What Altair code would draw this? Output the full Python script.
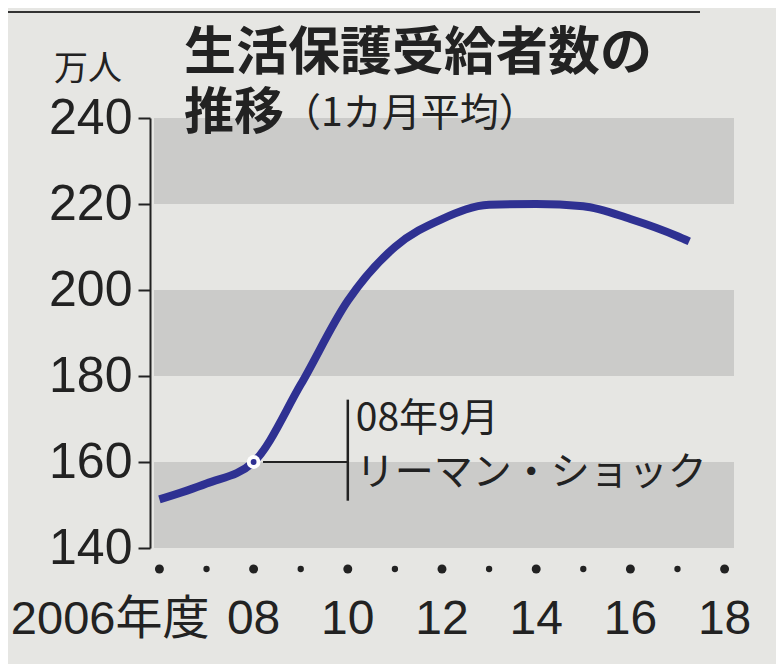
import altair as alt
import pandas as pd

# ---- data ----
years = [2006, 2007, 2008, 2009, 2010, 2011, 2012, 2013, 2014, 2015, 2016, 2017, 2017.25]
recipients = [151.3, 155.0, 160.0, 178.0, 197.5, 210.0, 216.5, 219.8, 220.0, 219.5, 216.5, 212.5, 211.3]

band_lo = [140, 180, 220]
band_hi = [160, 200, 240]

y_ticks = [140, 160, 180, 200, 220, 240]

dot_years = list(range(2006, 2019))
label_years = [2008, 2010, 2012, 2014, 2016, 2018]
label_texts = ["08", "10", "12", "14", "16", "18"]
first_label_year = [2006]
first_label_text = ["2006年度"]

event_year = [2008]
event_value = [160]
event_lines = ["08年9月", "リーマン・ショック"]
event_text_y = [170.0, 157.5]

# ---- styling ----
W, H = 584, 430
BLUE = "#2f3192"
INK = "#222222"
BAND = "#cbcbc9"
PAPER = "#e6e6e3"
NUM_FONT = "Liberation Sans, Noto Sans CJK JP"
JP_FONT = "Noto Sans CJK JP"

x_scale = alt.Scale(domain=[2005.8, 2018.2], nice=False, zero=False)
y_scale = alt.Scale(domain=[140, 240], nice=False, zero=False)
y_axis = alt.Axis(values=y_ticks, title=None, grid=False, domainColor=INK, domainWidth=2,
                  tickColor=INK, tickWidth=2, tickSize=12, labelPadding=6,
                  labelFont=NUM_FONT, labelFontSize=50, labelColor=INK)


def X(field):
    return alt.X(field, type="quantitative", scale=x_scale, axis=None)


def Y(field):
    return alt.Y(field, type="quantitative", scale=y_scale, axis=y_axis)


bands = alt.Chart(pd.DataFrame({"lo": band_lo, "hi": band_hi})).mark_rect(color=BAND).encode(
    x=alt.value(4), x2=alt.value(W), y=Y("lo"), y2="hi:Q")

line_df = pd.DataFrame({"year": years, "value": recipients})
line = alt.Chart(line_df).mark_line(color=BLUE, strokeWidth=8, interpolate="monotone",
                                    strokeCap="butt").encode(x=X("year"), y=Y("value"))

ev_df = pd.DataFrame({"year": event_year, "value": event_value})
ring = alt.Chart(ev_df).mark_circle(color="white", opacity=1, size=190).encode(x=X("year"), y=Y("value"))
core = alt.Chart(ev_df).mark_circle(color=BLUE, opacity=1, size=34).encode(x=X("year"), y=Y("value"))

h_rule = alt.Chart(pd.DataFrame({"x1": [2008.2], "x2": [2010], "y": [160]})).mark_rule(
    color=INK, strokeWidth=2).encode(x=X("x1"), x2="x2:Q", y=Y("y"))
v_rule = alt.Chart(pd.DataFrame({"x": [2010], "y1": [151], "y2": [174.5]})).mark_rule(
    color=INK, strokeWidth=2.5).encode(x=X("x"), y=Y("y1"), y2="y2:Q")

ev_text = alt.Chart(pd.DataFrame({"x": [2010, 2010], "y": event_text_y, "t": event_lines})).mark_text(
    align="left", baseline="middle", dx=8, font=JP_FONT, fontSize=39, color=INK).encode(
    x=X("x"), y=Y("y"), text="t:N")

dots_df = pd.DataFrame({"year": dot_years, "s": [80 if y % 2 == 0 else 40 for y in dot_years]})
dots = alt.Chart(dots_df).mark_circle(color=INK, opacity=1).encode(
    x=X("year"), y=alt.value(H + 21), size=alt.Size("s:Q", scale=None, legend=None))

labels = alt.Chart(pd.DataFrame({"year": label_years, "t": label_texts})).mark_text(
    align="center", baseline="middle", font=NUM_FONT, fontSize=48, color=INK).encode(
    x=X("year"), y=alt.value(H + 72), text="t:N")
first_label = alt.Chart(pd.DataFrame({"year": first_label_year, "t": first_label_text})).mark_text(
    align="right", baseline="middle", dx=50, font=NUM_FONT, fontSize=47, color=INK).encode(
    x=X("year"), y=alt.value(H + 72), text="t:N")


def free_text(txt, x, y, size, weight="normal", font=JP_FONT):
    return alt.Chart(alt.Data(values=[{}])).mark_text(
        text=txt, align="left", baseline="middle", font=font, fontSize=size,
        fontWeight=weight, color=INK).encode(x=alt.value(x), y=alt.value(y))


title1 = free_text("生活保護受給者数の", 34, -64, 52, "bold")
title2a = free_text("推移", 34, -4, 50, "bold")
title2b = free_text("（1カ月平均）", 132, -4, 39)
unit = free_text("万人", -96, -48, 34)

top_rule = alt.Chart(alt.Data(values=[{}])).mark_rule(color="#333333", strokeWidth=2).encode(
    x=alt.value(-150), x2=alt.value(550), y=alt.value(-106))

chart = alt.layer(
    bands, line, ring, core, h_rule, v_rule, ev_text, dots, labels, first_label,
    title1, title2a, title2b, unit, top_rule
).properties(
    width=W, height=H, background=PAPER,
    autosize=alt.AutoSizeParams(type="none"),
    padding={"left": 142, "top": 110, "right": 42, "bottom": 116},
).configure_view(stroke=None)

chart.save("out.html", embed_options={"renderer": "svg", "actions": False})
